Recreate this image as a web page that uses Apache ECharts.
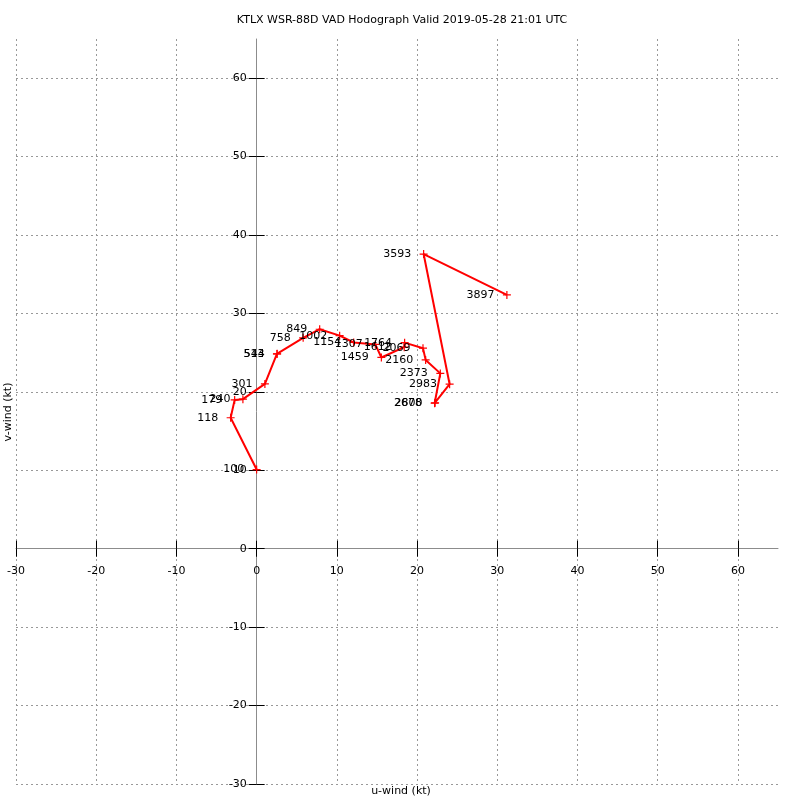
<!DOCTYPE html>
<html>
<head>
<meta charset="utf-8">
<script src="https://cdn.jsdelivr.net/npm/echarts@6/dist/echarts.min.js"></script>
<style>html,body{margin:0;padding:0;background:#fff}#c{width:800px;height:800px}</style>
</head>
<body>
<div id="c"></div>
<script>
const titleText = 'KTLX WSR-88D VAD Hodograph Valid 2019-05-28 21:01 UTC';
const heights = ['100','118','179','240','301','513','544','758','849','1002','1154','1307','1459','1612','1764','2069','2160','2373','2678','2800','2983','3593','3897'];
const uWind = [0.0,-3.24,-2.74,-1.71,1.03,2.53,2.56,5.8,7.86,10.35,12.1,14.8,15.55,18.4,18.45,20.74,21.07,22.9,22.19,22.25,24.06,20.82,31.2];
const vWind = [10.1,16.7,18.98,19.07,21.02,24.84,24.86,26.9,27.99,27.17,26.3,26.05,24.39,25.7,26.28,25.57,24.08,22.36,18.56,18.6,20.98,37.58,32.36];
const tickValues = [-30,-20,-10,0,10,20,30,40,50,60];
const axisMin = -30, axisMax = 65, axisStep = 10;

const data = heights.map((h, i) => [uWind[i], vWind[i], h]);
const font = 'DejaVu Sans';
const G = {left: 16, right: 22, top: 39, bottom: 16};
const W = 800, H = 800;
const gw = W - G.left - G.right, gh = H - G.top - G.bottom;
const frac0 = (0 - axisMin) / (axisMax - axisMin);
const xOff = -(gh * frac0);   // move x-label axis from bottom edge up to y=0
const yOff = -(gw * frac0);   // move y-label axis from left edge right to x=0

function mainAxis() {
  return {
    type: 'value', min: axisMin, max: axisMax, interval: axisStep,
    axisLine: {show: true, onZero: true, onZeroAxisIndex: 0, lineStyle: {color: '#8c8c8c', width: 1}},
    axisTick: {show: true, inside: false, length: 8, customValues: tickValues, lineStyle: {color: '#000', width: 1}},
    axisLabel: {show: false},
    splitLine: {show: true, showMinLine: true, showMaxLine: true, lineStyle: {color: '#999', type: [2, 3], width: 1}}
  };
}
function labelAxis(isX) {
  return {
    type: 'value', min: axisMin, max: axisMax, interval: axisStep,
    offset: isX ? xOff : yOff,
    axisLine: {show: false, onZero: false},
    axisTick: {show: true, inside: true, length: 8, customValues: tickValues, lineStyle: {color: '#000', width: 1}},
    axisLabel: {show: true, showMaxLabel: false, margin: isX ? 17 : 10, color: '#000', fontFamily: font, fontSize: 11},
    splitLine: {show: false}
  };
}
const chart = echarts.init(document.getElementById('c'), null, {renderer: 'canvas'});
chart.setOption({
  animation: false,
  backgroundColor: '#fff',
  title: [
    {text: titleText, left: 397, top: 10, textAlign: 'center',
     textStyle: {fontFamily: font, fontSize: 11, fontWeight: 'normal', color: '#000'}},
    {text: 'u-wind (kt)', left: 396, top: 781, textAlign: 'center',
     textStyle: {fontFamily: font, fontSize: 11, fontWeight: 'normal', color: '#000'}}
  ],
  graphic: [{
    type: 'text', x: 3, y: 412, rotation: Math.PI / 2,
    style: {text: 'v-wind (kt)', font: '11px "DejaVu Sans"', fill: '#000', textAlign: 'center', textVerticalAlign: 'top'}
  }],
  grid: Object.assign({containLabel: false, outerBoundsMode: 'none'}, G),
  xAxis: [Object.assign(mainAxis(), {position: 'bottom'}), Object.assign(labelAxis(true), {position: 'bottom'})],
  yAxis: [Object.assign(mainAxis(), {position: 'left'}), Object.assign(labelAxis(false), {position: 'left'})],
  series: [{
    type: 'line',
    data: data,
    xAxisIndex: 0, yAxisIndex: 0,
    lineStyle: {color: '#ff0000', width: 2},
    symbol: 'path://M5,0L5,10M0,5L10,5',
    symbolSize: 8,
    itemStyle: {color: 'none', borderColor: '#ff0000', borderWidth: 1.2},
    label: {
      show: true, position: 'left', distance: 6,
      formatter: p => p.value[2],
      color: '#000', fontFamily: font, fontSize: 11
    }
  }]
});
</script>
</body>
</html>
